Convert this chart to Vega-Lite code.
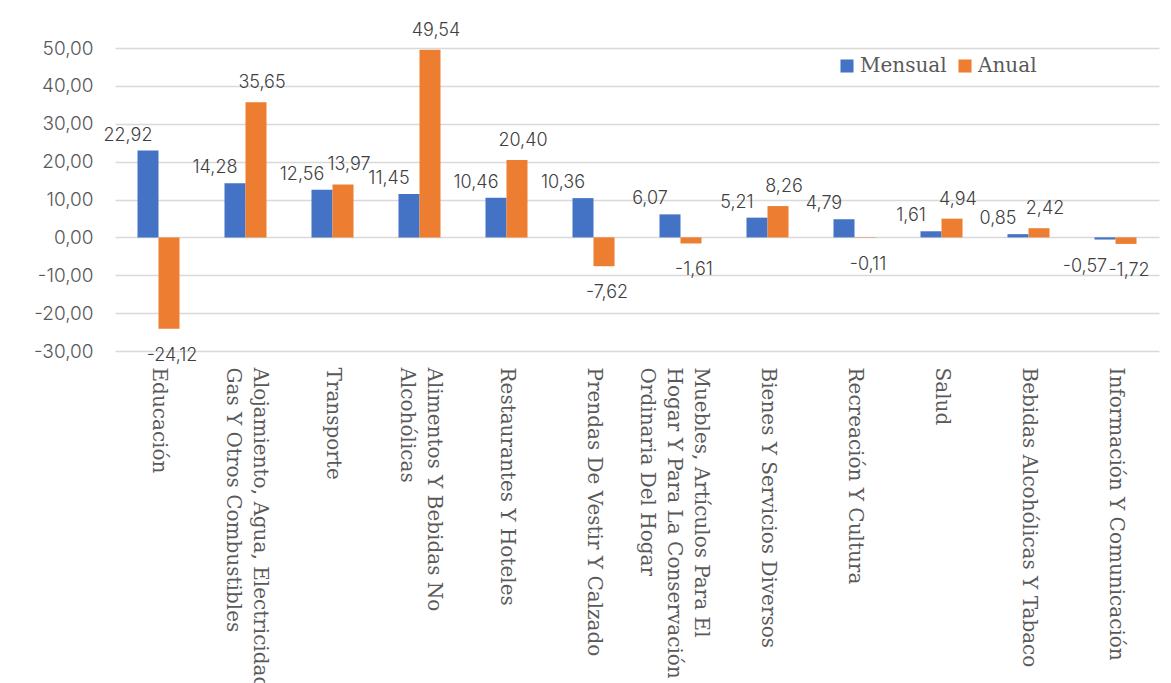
{
  "$schema": "https://vega.github.io/schema/vega-lite/v6.json",
  "width": 1044,
  "height": 303,
  "autosize": "none",
  "padding": {"left": 115, "top": 48, "right": 12, "bottom": 332},
  "background": "white",
  "config": {
    "locale": {"number": {"decimal": ",", "thousands": ".", "grouping": [3], "currency": ["", ""], "minus": "-"}},
    "view": {"stroke": null}
  },
  "data": {
    "values": [
      {"cat": "Educación", "serie": "Mensual", "valor": 22.92},
      {"cat": "Educación", "serie": "Anual", "valor": -24.12},
      {"cat": "Alojamiento, Agua, Electricidad,|Gas Y Otros Combustibles", "serie": "Mensual", "valor": 14.28},
      {"cat": "Alojamiento, Agua, Electricidad,|Gas Y Otros Combustibles", "serie": "Anual", "valor": 35.65},
      {"cat": "Transporte", "serie": "Mensual", "valor": 12.56},
      {"cat": "Transporte", "serie": "Anual", "valor": 13.97},
      {"cat": "Alimentos Y Bebidas No|Alcohólicas", "serie": "Mensual", "valor": 11.45},
      {"cat": "Alimentos Y Bebidas No|Alcohólicas", "serie": "Anual", "valor": 49.54},
      {"cat": "Restaurantes Y Hoteles", "serie": "Mensual", "valor": 10.46},
      {"cat": "Restaurantes Y Hoteles", "serie": "Anual", "valor": 20.40},
      {"cat": "Prendas De Vestir Y Calzado", "serie": "Mensual", "valor": 10.36},
      {"cat": "Prendas De Vestir Y Calzado", "serie": "Anual", "valor": -7.62},
      {"cat": "Muebles, Artículos Para El|Hogar Y Para La Conservación|Ordinaria Del Hogar", "serie": "Mensual", "valor": 6.07},
      {"cat": "Muebles, Artículos Para El|Hogar Y Para La Conservación|Ordinaria Del Hogar", "serie": "Anual", "valor": -1.61},
      {"cat": "Bienes Y Servicios Diversos", "serie": "Mensual", "valor": 5.21},
      {"cat": "Bienes Y Servicios Diversos", "serie": "Anual", "valor": 8.26},
      {"cat": "Recreación Y Cultura", "serie": "Mensual", "valor": 4.79},
      {"cat": "Recreación Y Cultura", "serie": "Anual", "valor": -0.11},
      {"cat": "Salud", "serie": "Mensual", "valor": 1.61},
      {"cat": "Salud", "serie": "Anual", "valor": 4.94},
      {"cat": "Bebidas Alcohólicas Y Tabaco", "serie": "Mensual", "valor": 0.85},
      {"cat": "Bebidas Alcohólicas Y Tabaco", "serie": "Anual", "valor": 2.42},
      {"cat": "Información Y Comunicación", "serie": "Mensual", "valor": -0.57},
      {"cat": "Información Y Comunicación", "serie": "Anual", "valor": -1.72}
    ]
  },
  "encoding": {
    "x": {
      "field": "cat",
      "type": "nominal",
      "sort": null,
      "scale": {"paddingInner": 0.517, "paddingOuter": 0.2585},
      "axis": {
        "title": null,
        "domain": false,
        "ticks": false,
        "labelAngle": 90,
        "labelAlign": "left",
        "labelBaseline": "middle",
        "labelPadding": 16,
        "labelOffset": {
          "condition": [
            {"test": "indexof(datum.value, 'Muebles') >= 0", "value": 20},
            {"test": "indexof(datum.value, '|') >= 0", "value": 14}
          ],
          "value": 0
        },
        "labelFont": "DejaVu Serif",
        "labelFontSize": 20,
        "labelColor": "#595959",
        "labelLineHeight": 27,
        "labelLimit": 500,
        "labelOverlap": false,
        "labelBound": false,
        "labelExpr": "split(datum.label, '|')"
      }
    },
    "xOffset": {"field": "serie", "type": "nominal", "sort": ["Mensual", "Anual"]},
    "y": {
      "field": "valor",
      "type": "quantitative",
      "scale": {"domain": [-30, 50], "nice": false},
      "axis": {
        "title": null,
        "domain": false,
        "ticks": false,
        "values": [-30, -20, -10, 0, 10, 20, 30, 40, 50],
        "format": ".2f",
        "labelFont": "Inter",
        "labelFontWeight": 300,
        "labelFontSize": 19,
        "labelColor": "#595959",
        "labelPadding": 22,
        "gridColor": "#D9D9D9",
        "gridWidth": 1.5
      }
    }
  },
  "layer": [
    {
      "mark": {"type": "bar"},
      "encoding": {
        "color": {
          "field": "serie",
          "type": "nominal",
          "scale": {"domain": ["Mensual", "Anual"], "range": ["#4472C4", "#ED7D31"]},
          "legend": {
            "title": null,
            "orient": "none",
            "legendX": 722,
            "legendY": 8,
            "direction": "horizontal",
            "symbolType": "square",
            "symbolSize": 170,
            "symbolStrokeWidth": 0,
            "labelFont": "DejaVu Serif",
            "labelFontSize": 20,
            "labelColor": "#595959",
            "labelOffset": 3,
            "columnPadding": 8
          }
        }
      }
    },
    {
      "transform": [{"filter": "datum.valor >= 0 && datum.serie == 'Mensual'"}],
      "mark": {"type": "text", "baseline": "bottom", "dy": -6, "dx": -20, "font": "Inter", "fontWeight": 300, "fontSize": 18, "color": "#404040"},
      "encoding": {"text": {"field": "valor", "type": "quantitative", "format": ".2f"}}
    },
    {
      "transform": [{"filter": "datum.valor >= 0 && datum.serie == 'Anual'"}],
      "mark": {"type": "text", "baseline": "bottom", "dy": -10, "dx": 6, "font": "Inter", "fontWeight": 300, "fontSize": 18, "color": "#404040"},
      "encoding": {"text": {"field": "valor", "type": "quantitative", "format": ".2f"}}
    },
    {
      "transform": [{"filter": "datum.valor < 0 && datum.serie == 'Mensual'"}],
      "mark": {"type": "text", "baseline": "top", "dy": 18, "dx": -20, "font": "Inter", "fontWeight": 300, "fontSize": 18, "color": "#404040"},
      "encoding": {"text": {"field": "valor", "type": "quantitative", "format": ".2f"}}
    },
    {
      "transform": [{"filter": "datum.valor < 0 && datum.serie == 'Anual'"}],
      "mark": {"type": "text", "baseline": "top", "dy": 18, "dx": 3, "font": "Inter", "fontWeight": 300, "fontSize": 18, "color": "#404040"},
      "encoding": {"text": {"field": "valor", "type": "quantitative", "format": ".2f"}}
    }
  ]
}
